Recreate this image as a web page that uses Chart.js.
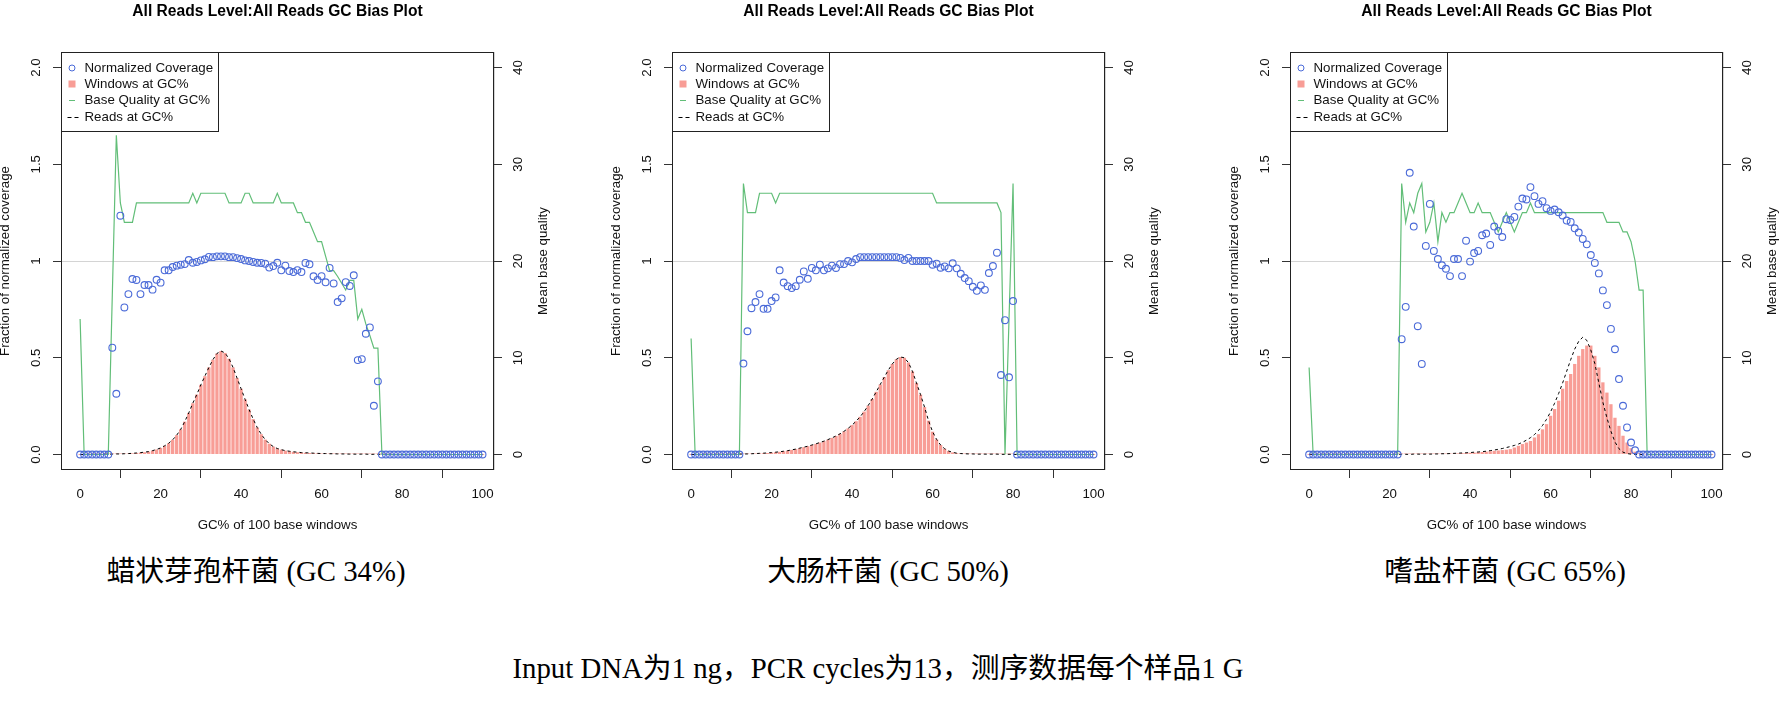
<!DOCTYPE html>
<html>
<head>
<meta charset="utf-8">
<title>GC Bias Plot</title>
<script src="https://cdn.jsdelivr.net/npm/chart.js@4.4.0/dist/chart.umd.min.js"></script>
<style>
  body { margin: 0; background: #fff; width: 1783px; height: 701px; overflow: hidden; position: relative; }
  .panel { position: absolute; top: 0; }
  .caption {
    position: absolute;
    font-family: "Liberation Serif", "Noto Sans CJK SC", serif;
    font-size: 28.8px;
    line-height: 32px;
    color: #000;
    white-space: nowrap;
    transform: translateX(-50%);
  }
</style>
</head>
<body>
<canvas id="gc1" class="panel" width="580" height="545" style="left:-14px"></canvas>
<canvas id="gc2" class="panel" width="580" height="545" style="left:597px"></canvas>
<canvas id="gc3" class="panel" width="580" height="545" style="left:1215px"></canvas>
<div class="caption" style="left:256px; top:555px">蜡状芽孢杆菌 (GC 34%)</div>
<div class="caption" style="left:888px; top:555px">大肠杆菌 (GC 50%)</div>
<div class="caption" style="left:1505px; top:555px">嗜盐杆菌 (GC 65%)</div>
<div class="caption" style="left:878px; top:652px">Input DNA为1 ng，PCR cycles为13，测序数据每个样品1 G</div>
<script>
const gcPct = Array.from({ length: 101 }, (_, i) => i);
const xTicks = [0, 20, 40, 60, 80, 100];
const covTicks = [0, 0.5, 1, 1.5, 2];
const covTickLabels = ["0.0", "0.5", "1", "1.5", "2.0"];
const qualTicks = [0, 10, 20, 30, 40];
const legendLabels = ["Normalized Coverage", "Windows at GC%", "Base Quality at GC%", "Reads at GC%"];
const plotTitle = "All Reads Level:All Reads GC Bias Plot";
const xTitle = "GC% of 100 base windows";
const yTitle = "Fraction of normalized coverage";
const rightTitle = "Mean base quality";
const meanGcLine = 49;
const coverageRefLine = 1;

// 蜡状芽孢杆菌 (GC 34%)
const cov1 = [
  0, 0, 0, 0, 0, 0, 0, 0, 0.552, 0.314,
  1.234, 0.76, 0.829, 0.907, 0.902, 0.829, 0.876, 0.876, 0.852, 0.903,
  0.888, 0.952, 0.952, 0.969, 0.976, 0.981, 0.984, 1.005, 0.991, 0.995,
  1.003, 1.009, 1.021, 1.02, 1.024, 1.024, 1.024, 1.02, 1.02, 1.015,
  1.01, 1.003, 1.0, 0.995, 0.991, 0.99, 0.986, 0.966, 0.974, 0.991,
  0.952, 0.976, 0.948, 0.943, 0.953, 0.943, 0.99, 0.983, 0.921, 0.902,
  0.922, 0.89, 0.964, 0.884, 0.788, 0.807, 0.891, 0.871, 0.926, 0.488,
  0.493, 0.624, 0.657, 0.252, 0.378, 0, 0, 0, 0, 0,
  0, 0, 0, 0, 0, 0, 0, 0, 0, 0,
  0, 0, 0, 0, 0, 0, 0, 0, 0, 0,
  0
];
const win1 = [
  0, 0, 0.001, 0.001, 0.001, 0.001, 0.002, 0.002, 0.002, 0.003,
  0.003, 0.004, 0.005, 0.006, 0.008, 0.01, 0.012, 0.015, 0.02, 0.026,
  0.034, 0.045, 0.058, 0.076, 0.1, 0.13, 0.17, 0.215, 0.265, 0.31,
  0.36, 0.405, 0.45, 0.49, 0.522, 0.535, 0.525, 0.495, 0.45, 0.395,
  0.34, 0.285, 0.232, 0.183, 0.14, 0.105, 0.077, 0.056, 0.041, 0.031,
  0.025, 0.02, 0.017, 0.014, 0.012, 0.01, 0.009, 0.008, 0.007, 0.006,
  0.005, 0.005, 0.004, 0.004, 0.003, 0.003, 0.003, 0.002, 0.002, 0.002,
  0.002, 0.002, 0.001, 0.001, 0.001, 0.001, 0.001, 0.001, 0, 0,
  0, 0, 0, 0, 0, 0, 0, 0, 0, 0,
  0, 0, 0, 0, 0, 0, 0, 0, 0, 0,
  0
];
const qual1 = [
  14, 0, 0, 0, 0, 0, 0, 0, 16.5, 33,
  26, 24, 24, 24, 26, 26, 26, 26, 26, 26,
  26, 26, 26, 26, 26, 26, 26, 26, 27, 26,
  27, 27, 27, 27, 27, 27, 27, 26, 26, 26,
  26, 27, 27, 26, 26, 26, 26, 26, 26, 27,
  26, 26, 26, 26, 25, 25, 24, 24, 23, 22,
  22, 20.5, 19, 19, 18.4, 17.7, 17, 18, 18, 14,
  15, 13.5, 12.3, 11, 11, 0, 0, 0, 0, 0,
  0, 0, 0, 0, 0, 0, 0, 0, 0, 0,
  0, 0, 0, 0, 0, 0, 0, 0, 0, 0,
  0
];
const reads1 = [
  0, 0, 0.001, 0.001, 0.001, 0.001, 0.002, 0.002, 0.002, 0.003,
  0.003, 0.004, 0.005, 0.006, 0.008, 0.01, 0.012, 0.015, 0.02, 0.026,
  0.034, 0.045, 0.058, 0.076, 0.1, 0.13, 0.17, 0.215, 0.265, 0.31,
  0.36, 0.405, 0.45, 0.49, 0.522, 0.535, 0.525, 0.495, 0.45, 0.395,
  0.34, 0.285, 0.232, 0.183, 0.14, 0.105, 0.077, 0.056, 0.041, 0.031,
  0.025, 0.02, 0.017, 0.014, 0.012, 0.01, 0.009, 0.008, 0.007, 0.006,
  0.005, 0.005, 0.004, 0.004, 0.003, 0.003, 0.003, 0.002, 0.002, 0.002,
  0.002, 0.002, 0.001, 0.001, 0.001, 0.001, 0.001, 0.001, 0, 0,
  0, 0, 0, 0, 0, 0, 0, 0, 0, 0,
  0, 0, 0, 0, 0, 0, 0, 0, 0, 0,
  0
];

// 大肠杆菌 (GC 50%)
const cov2 = [
  0, 0, 0, 0, 0, 0, 0, 0, 0, 0,
  0, 0, 0, 0.47, 0.637, 0.756, 0.788, 0.829, 0.753, 0.753,
  0.793, 0.812, 0.952, 0.889, 0.87, 0.86, 0.87, 0.903, 0.946, 0.908,
  0.964, 0.952, 0.981, 0.952, 0.962, 0.976, 0.964, 0.984, 0.984, 1.0,
  0.993, 1.01, 1.02, 1.02, 1.02, 1.02, 1.02, 1.02, 1.02, 1.02,
  1.02, 1.02, 1.016, 1.005, 1.016, 1.0, 1.0, 1.0, 1.0, 1.0,
  0.981, 0.986, 0.965, 0.972, 0.962, 0.988, 0.962, 0.934, 0.912, 0.896,
  0.867, 0.846, 0.874, 0.851, 0.938, 0.974, 1.043, 0.411, 0.694, 0.399,
  0.793, 0, 0, 0, 0, 0, 0, 0, 0, 0,
  0, 0, 0, 0, 0, 0, 0, 0, 0, 0,
  0
];
const win2 = [
  0, 0, 0, 0.001, 0.001, 0.001, 0.001, 0.001, 0.001, 0.001,
  0.002, 0.002, 0.002, 0.003, 0.003, 0.004, 0.005, 0.006, 0.007, 0.008,
  0.01, 0.012, 0.014, 0.017, 0.02, 0.024, 0.028, 0.033, 0.038, 0.043,
  0.049, 0.055, 0.062, 0.069, 0.077, 0.086, 0.096, 0.107, 0.12, 0.135,
  0.152, 0.172, 0.195, 0.222, 0.253, 0.287, 0.324, 0.362, 0.4, 0.436,
  0.468, 0.492, 0.504, 0.5, 0.475, 0.43, 0.37, 0.31, 0.245, 0.175,
  0.118, 0.078, 0.049, 0.03, 0.018, 0.011, 0.007, 0.005, 0.004, 0.003,
  0.003, 0.002, 0.002, 0.002, 0.002, 0.002, 0.002, 0.001, 0.001, 0.001,
  0.001, 0, 0, 0, 0, 0, 0, 0, 0, 0,
  0, 0, 0, 0, 0, 0, 0, 0, 0, 0,
  0
];
const qual2 = [
  12, 0, 0, 0, 0, 0, 0, 0, 0, 0,
  0, 0, 0, 28, 25, 25, 25, 27, 27, 27,
  27, 26, 27, 27, 27, 27, 27, 27, 27, 27,
  27, 27, 27, 27, 27, 27, 27, 27, 27, 27,
  27, 27, 27, 27, 27, 27, 27, 27, 27, 27,
  27, 27, 27, 27, 27, 27, 27, 27, 27, 27,
  27, 26, 26, 26, 26, 26, 26, 26, 26, 26,
  26, 26, 26, 26, 26, 26, 26, 25, 0, 14,
  28, 0, 0, 0, 0, 0, 0, 0, 0, 0,
  0, 0, 0, 0, 0, 0, 0, 0, 0, 0,
  0
];
const reads2 = [
  0, 0, 0, 0.001, 0.001, 0.001, 0.001, 0.001, 0.001, 0.001,
  0.002, 0.002, 0.002, 0.003, 0.003, 0.004, 0.005, 0.006, 0.007, 0.008,
  0.01, 0.012, 0.014, 0.017, 0.02, 0.024, 0.028, 0.033, 0.038, 0.043,
  0.049, 0.055, 0.062, 0.069, 0.077, 0.086, 0.096, 0.107, 0.12, 0.135,
  0.152, 0.172, 0.195, 0.222, 0.253, 0.287, 0.324, 0.362, 0.4, 0.436,
  0.468, 0.492, 0.504, 0.5, 0.475, 0.43, 0.37, 0.31, 0.245, 0.175,
  0.118, 0.078, 0.049, 0.03, 0.018, 0.011, 0.007, 0.005, 0.004, 0.003,
  0.003, 0.002, 0.002, 0.002, 0.002, 0.002, 0.002, 0.001, 0.001, 0.001,
  0.001, 0, 0, 0, 0, 0, 0, 0, 0, 0,
  0, 0, 0, 0, 0, 0, 0, 0, 0, 0,
  0
];

// 嗜盐杆菌 (GC 65%)
const cov3 = [
  0, 0, 0, 0, 0, 0, 0, 0, 0, 0,
  0, 0, 0, 0, 0, 0, 0, 0, 0, 0,
  0, 0, 0, 0.596, 0.763, 1.456, 1.178, 0.663, 0.468, 1.078,
  1.295, 1.052, 1.01, 0.978, 0.96, 0.922, 1.01, 1.01, 0.922, 1.105,
  0.997, 1.041, 1.052, 1.133, 1.142, 1.083, 1.178, 1.155, 1.124, 1.216,
  1.212, 1.228, 1.281, 1.323, 1.318, 1.382, 1.335, 1.295, 1.309, 1.273,
  1.259, 1.266, 1.252, 1.235, 1.209, 1.202, 1.169, 1.147, 1.114, 1.086,
  1.031, 0.99, 0.936, 0.848, 0.772, 0.649, 0.544, 0.39, 0.252, 0.14,
  0.062, 0.022, 0, 0, 0, 0, 0, 0, 0, 0,
  0, 0, 0, 0, 0, 0, 0, 0, 0, 0,
  0
];
const win3 = [
  0, 0, 0.001, 0.001, 0.001, 0.001, 0.001, 0.001, 0.001, 0.001,
  0.001, 0.001, 0.001, 0.001, 0.001, 0.001, 0.001, 0.001, 0.001, 0.001,
  0.001, 0.001, 0.001, 0.001, 0.001, 0.001, 0.001, 0.001, 0.001, 0.001,
  0.002, 0.002, 0.003, 0.003, 0.004, 0.004, 0.005, 0.006, 0.007, 0.008,
  0.009, 0.01, 0.012, 0.013, 0.015, 0.017, 0.019, 0.021, 0.023, 0.025,
  0.028, 0.036, 0.045, 0.054, 0.062, 0.07, 0.088, 0.105, 0.13, 0.157,
  0.2, 0.235, 0.278, 0.34, 0.38, 0.416, 0.468, 0.51, 0.545, 0.563,
  0.563, 0.51, 0.45, 0.373, 0.32, 0.26, 0.19, 0.148, 0.097, 0.062,
  0.033, 0.015, 0.007, 0.003, 0, 0, 0, 0, 0, 0,
  0, 0, 0, 0, 0, 0, 0, 0, 0, 0,
  0
];
const qual3 = [
  9, 0, 0, 0, 0, 0, 0, 0, 0, 0,
  0, 0, 0, 0, 0, 0, 0, 0, 0, 0,
  0, 0, 0, 28, 24, 26, 25, 27, 28, 23,
  24, 26, 22, 25, 24, 25, 25, 26, 27, 26,
  25, 25, 26, 25, 25, 25, 24, 23, 24, 25,
  24, 23, 24, 25, 25, 26, 25, 25, 25, 25,
  25, 25, 25, 25, 25, 25, 25, 25, 25, 25,
  25, 25, 25, 25, 24, 24, 24, 24, 23, 23,
  22, 20, 17, 17, 0, 0, 0, 0, 0, 0,
  0, 0, 0, 0, 0, 0, 0, 0, 0, 0,
  0
];
const reads3 = [
  0.001, 0.001, 0.001, 0.001, 0.001, 0.001, 0.001, 0.001, 0.001, 0.001,
  0.001, 0.001, 0.001, 0.001, 0.001, 0.001, 0.001, 0.001, 0.001, 0.001,
  0.001, 0.001, 0.001, 0.001, 0.001, 0.001, 0.002, 0.002, 0.002, 0.002,
  0.002, 0.003, 0.003, 0.004, 0.004, 0.005, 0.006, 0.007, 0.008, 0.009,
  0.01, 0.012, 0.013, 0.015, 0.017, 0.02, 0.023, 0.027, 0.031, 0.036,
  0.041, 0.047, 0.054, 0.063, 0.074, 0.087, 0.103, 0.124, 0.15, 0.182,
  0.22, 0.265, 0.315, 0.37, 0.43, 0.49, 0.545, 0.585, 0.606, 0.59,
  0.54, 0.47, 0.37, 0.27, 0.19, 0.12, 0.065, 0.03, 0.012, 0.005,
  0.002, 0.001, 0, 0, 0, 0, 0, 0, 0, 0,
  0, 0, 0, 0, 0, 0, 0, 0, 0, 0,
  0
];

const FONT = "'Liberation Sans', Arial, sans-serif";
const BLUE = "#4a6ad8";
const SALMON = "#f89d96";
const GREEN = "#62be78";
const TEXT = "#111";
const TICK = "#333";

function points(values) {
  return gcPct.map((x, i) => ({ x: x, y: values[i] }));
}

function textFont(size) {
  return { family: FONT, size: size, lineHeight: 1 };
}

// box, legend and the right-hand axis title (R draws it bottom-to-top)
const panelDecor = {
  id: "panelDecor",
  afterDraw(chart) {
    const { ctx, chartArea: a } = chart;
    const ds = chart.data.datasets;
    ctx.save();
    ctx.strokeStyle = "#222";
    ctx.lineWidth = 1;
    ctx.setLineDash([]);
    ctx.strokeRect(Math.round(a.left) + 0.5, Math.round(a.top) + 0.5,
      Math.round(a.right - a.left) - 1, Math.round(a.bottom - a.top) - 1);

    const lx = Math.round(a.left), ly = Math.round(a.top);
    ctx.strokeRect(lx + 0.5, ly + 0.5, 157, 79);
    const rows = [16, 32, 48.5, 65.5];
    ctx.font = "13.3px " + FONT;
    ctx.textBaseline = "middle";
    ctx.textAlign = "left";
    ctx.fillStyle = TEXT;
    legendLabels.forEach((t, i) => ctx.fillText(t, lx + 23.5, ly + rows[i]));

    ctx.strokeStyle = ds[0].pointBorderColor;
    ctx.beginPath();
    ctx.arc(lx + 11, ly + rows[0], 3, 0, Math.PI * 2);
    ctx.stroke();
    ctx.fillStyle = ds[1].backgroundColor;
    ctx.fillRect(lx + 7.5, ly + rows[1] - 3.5, 7, 7);
    ctx.strokeStyle = ds[2].borderColor;
    ctx.beginPath();
    ctx.moveTo(lx + 8, ly + rows[2]);
    ctx.lineTo(lx + 14, ly + rows[2]);
    ctx.stroke();
    ctx.strokeStyle = ds[3].borderColor;
    ctx.setLineDash([4, 3]);
    ctx.beginPath();
    ctx.moveTo(lx + 6.5, ly + rows[3]);
    ctx.lineTo(lx + 17.5, ly + rows[3]);
    ctx.stroke();
    ctx.setLineDash([]);

    ctx.translate(a.right + 49, (a.top + a.bottom) / 2);
    ctx.rotate(-Math.PI / 2);
    ctx.textAlign = "center";
    ctx.fillStyle = TEXT;
    ctx.fillText(rightTitle, 0, 0);
    ctx.restore();
  }
};

function drawPanel(id, cov, win, qual, reads) {
  const ctx = document.getElementById(id).getContext("2d");
  return new Chart(ctx, {
    type: "bar",
    data: {
      datasets: [
        {
          type: "scatter", label: legendLabels[0], data: points(cov),
          xAxisID: "x", yAxisID: "y",
          pointStyle: "circle", pointRadius: 3.4, pointBorderWidth: 1.1,
          pointBorderColor: BLUE, pointBackgroundColor: "rgba(0,0,0,0)",
          borderColor: BLUE, backgroundColor: "rgba(0,0,0,0)", order: 0
        },
        {
          type: "bar", label: legendLabels[1], data: points(win),
          xAxisID: "x", yAxisID: "y",
          backgroundColor: SALMON, borderWidth: 0,
          barPercentage: 0.82, categoryPercentage: 1, minBarLength: 1, order: 3
        },
        {
          type: "line", label: legendLabels[2], data: points(qual),
          xAxisID: "x", yAxisID: "yq",
          borderColor: GREEN, borderWidth: 1.2, pointRadius: 0, tension: 0, order: 1
        },
        {
          type: "line", label: legendLabels[3], data: points(reads),
          xAxisID: "x", yAxisID: "y",
          borderColor: "#000", borderWidth: 1, borderDash: [3, 3],
          pointRadius: 0, tension: 0, order: 2
        }
      ]
    },
    options: {
      responsive: false,
      animation: false,
      devicePixelRatio: 1,
      events: [],
      layout: { padding: { left: 0, right: 10, top: 0, bottom: 13 } },
      plugins: {
        legend: { display: false },
        tooltip: { enabled: false },
        title: {
          display: true, text: plotTitle, fullSize: false, color: "#000",
          font: { family: FONT, size: 15.6, weight: "bold", lineHeight: 1 },
          padding: { top: 3.9, bottom: 32.5 }
        }
      },
      scales: {
        x: {
          type: "linear", axis: "x", position: "bottom", min: -4.75, max: 102.85, offset: false,
          afterBuildTicks: (s) => { s.ticks = xTicks.map((v) => ({ value: v })); },
          afterFit: (s) => { s.height = 62; },
          grid: { drawOnChartArea: false, tickLength: 8, tickColor: TICK, tickWidth: 1 },
          border: { display: false },
          ticks: { color: TEXT, padding: 9.85, maxRotation: 0, autoSkip: false, font: textFont(13.3) },
          title: { display: true, text: xTitle, color: TEXT, padding: 0, font: textFont(13.3) }
        },
        xRef: {
          type: "linear", axis: "x", position: "bottom", min: -4.75, max: 102.85, offset: false,
          afterBuildTicks: (s) => { s.ticks = [{ value: meanGcLine }]; },
          afterFit: (s) => { s.height = 0; },
          grid: { color: "#d4d4d4", drawTicks: false },
          border: { display: false },
          ticks: { display: false }
        },
        y: {
          type: "linear", axis: "y", position: "left", min: -0.08, max: 2.08,
          afterBuildTicks: (s) => { s.ticks = covTicks.map((v) => ({ value: v })); },
          afterFit: (s) => { s.width = 75; },
          grid: { drawOnChartArea: false, tickLength: 8, tickColor: TICK, tickWidth: 1 },
          border: { display: false },
          ticks: {
            callback: (v, i) => covTickLabels[i],
            minRotation: 90, maxRotation: 90, crossAlign: "center",
            padding: 7.8, color: TEXT, font: textFont(13.3)
          },
          title: { display: true, text: yTitle, color: TEXT, padding: { top: 13.05, bottom: 0 }, font: textFont(13.3) }
        },
        yRef: {
          type: "linear", axis: "y", position: "left", min: -0.08, max: 2.08,
          afterBuildTicks: (s) => { s.ticks = [{ value: coverageRefLine }]; },
          afterFit: (s) => { s.width = 0; },
          grid: { color: "#d4d4d4", drawTicks: false },
          border: { display: false },
          ticks: { display: false }
        },
        yq: {
          type: "linear", axis: "y", position: "right", min: -1.6, max: 41.6,
          afterBuildTicks: (s) => { s.ticks = qualTicks.map((v) => ({ value: v })); },
          afterFit: (s) => { s.width = 62; },
          grid: { drawOnChartArea: false, tickLength: 8, tickColor: TICK, tickWidth: 1 },
          border: { display: false },
          ticks: {
            minRotation: 90, maxRotation: 90, crossAlign: "center",
            padding: 9.4, color: TEXT, font: textFont(13.3)
          }
        }
      }
    },
    plugins: [panelDecor]
  });
}

drawPanel("gc1", cov1, win1, qual1, reads1);
drawPanel("gc2", cov2, win2, qual2, reads2);
drawPanel("gc3", cov3, win3, qual3, reads3);
</script>
</body>
</html>
